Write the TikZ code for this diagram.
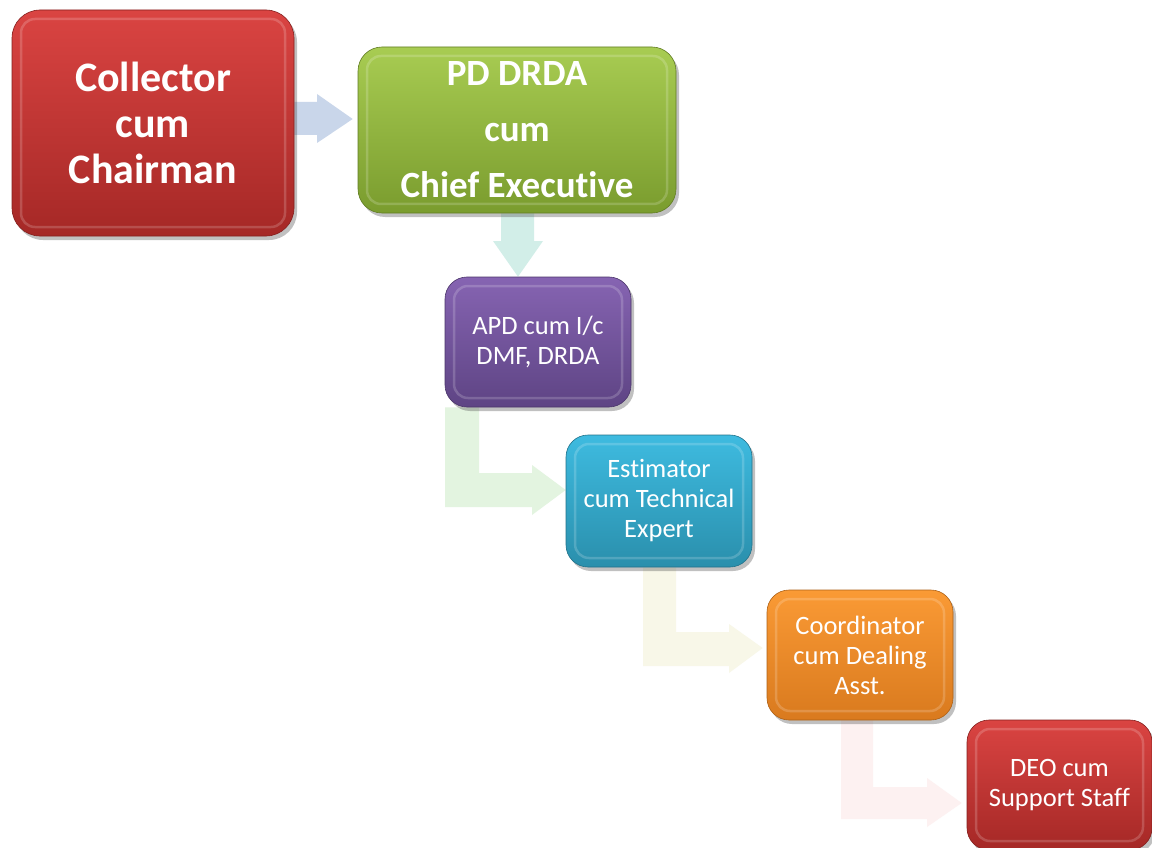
\documentclass[tikz,border=0pt]{standalone}
\usepackage{fontspec}
\setmainfont{Carlito}[Ligatures=CommonOff]
\usetikzlibrary{shadows,backgrounds,shadings}
\definecolor{redTop}{HTML}{DA4442}
\definecolor{redBot}{HTML}{A52826}
\definecolor{grnTop}{HTML}{A8CC52}
\definecolor{grnBot}{HTML}{7A9C2E}
\definecolor{purTop}{HTML}{8664B2}
\definecolor{purBot}{HTML}{5E4484}
\definecolor{bluTop}{HTML}{3EBBE0}
\definecolor{bluBot}{HTML}{2A8FAC}
\definecolor{orgTop}{HTML}{FA9A35}
\definecolor{orgBot}{HTML}{D97A1E}
\definecolor{arrA}{HTML}{C9D6EA}
\definecolor{arrB}{HTML}{D2EEE8}
\definecolor{arrC}{HTML}{E3F4E0}
\definecolor{arrD}{HTML}{F8F7E8}
\definecolor{arrE}{HTML}{FDF1F1}
\tikzset{
  box/.style={rectangle, inner sep=0pt, align=center, text=white,
    drop shadow={shadow xshift=3pt, shadow yshift=-4pt, opacity=.35, fill=black!70},
    path picture={
      \draw[white, opacity=.18, line width=2.5pt, rounded corners=14pt]
        ([shift={(9pt,-9pt)}]path picture bounding box.north west) rectangle
        ([shift={(-9pt,9pt)}]path picture bounding box.south east);
    }},
  bigbox/.style={box, rounded corners=28pt},
  smallbox/.style={box, rounded corners=22pt, minimum width=186pt, minimum height=130pt,
    font=\fontsize{26.5}{30}\selectfont},
  redbox/.style={top color=redTop, bottom color=redBot, draw=redBot!80!black, line width=.6pt},
  grnbox/.style={top color=grnTop, bottom color=grnBot, draw=grnBot!80!black, line width=.6pt},
  purbox/.style={top color=purTop, bottom color=purBot, draw=purBot!80!black, line width=.6pt},
  blubox/.style={top color=bluTop, bottom color=bluBot, draw=bluBot!80!black, line width=.6pt},
  orgbox/.style={top color=orgTop, bottom color=orgBot, draw=orgBot!80!black, line width=.6pt},
}
\begin{document}
\begin{tikzpicture}[x=1pt, y=-1pt]
\useasboundingbox (0,0) rectangle (1152,848);

\node[bigbox, redbox, minimum width=282pt, minimum height=226pt,
  font=\bfseries\fontsize{42}{46}\selectfont] (coll) at (153,123)
  {Collector\\cum\\Chairman};
\node[bigbox, grnbox, rounded corners=24pt, minimum width=318pt, minimum height=166pt,
  font=\bfseries\fontsize{37}{56}\selectfont] (pd) at (517,130)
  {PD DRDA\\cum\\Chief Executive};
\node[smallbox, purbox] (apd) at (538,342) {APD cum I/c\\DMF, DRDA};
\node[smallbox, blubox, minimum height=132pt] (est) at (659,501) {Estimator\\cum Technical\\Expert};
\node[smallbox, orgbox] (coord) at (860,655) {Coordinator\\cum Dealing\\Asst.};
\node[smallbox, redbox, minimum width=185pt] (deo) at (1059.5,785) {DEO cum\\Support Staff};

\begin{scope}[on background layer]
  \fill[white] (0,0) rectangle (1152,848);
  % Collector -> PD DRDA
  \fill[arrA] (coll.east |- 0,102) -- (317,102) -- (317,94) -- ([xshift=-5pt]pd.west |- 0,119)
    -- (317,143) -- (317,135) -- (coll.east |- 0,135) -- cycle;
  % PD DRDA -> APD
  \fill[arrB] (pd.south -| 501,0) -- (pd.south -| 534,0) -- (534,241) -- (543,241)
    -- (apd.north -| 518,0) -- (493,241) -- (501,241) -- cycle;
  % APD -> Estimator
  \fill[arrC] (apd.south -| 445,0) -- (apd.south -| 479,0) -- (479,473) -- (532,473)
    -- (532,465) -- (est.west |- 0,490) -- (532,515) -- (532,507) -- (445,507) -- cycle;
  % Estimator -> Coordinator
  \fill[arrD] (est.south -| 643,0) -- (est.south -| 676,0) -- (676,632) -- (729,632)
    -- (729,624) -- ([xshift=-4pt]coord.west |- 0,648) -- (729,673) -- (729,666) -- (643,666) -- cycle;
  % Coordinator -> DEO
  \fill[arrE] (coord.south -| 841,0) -- (coord.south -| 873,0) -- (873,787) -- (927,787)
    -- (927,778) -- ([xshift=-5pt]deo.west |- 0,803) -- (927,827) -- (927,819) -- (841,819) -- cycle;
\end{scope}
\end{tikzpicture}
\end{document}
